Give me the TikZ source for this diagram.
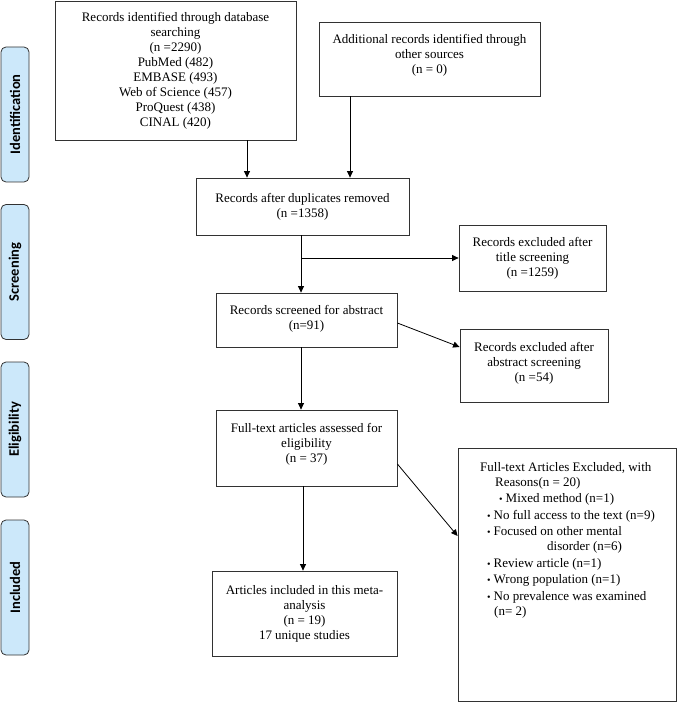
\documentclass[tikz,border=0pt]{standalone}
\usepackage{fontspec}
\setmainfont{Liberation Serif}
\newfontfamily\phasefont{Carlito}
\usetikzlibrary{arrows.meta}
\definecolor{phaseblue}{RGB}{204,232,250}
\definecolor{edgegray}{RGB}{50,50,50}
\tikzset{
  box/.style={draw=edgegray, line width=0.8pt, inner sep=0pt, align=center,
    font=\fontsize{13}{15}\selectfont},
  boxtext/.style={inner sep=0pt, align=center, font=\fontsize{13}{15}\selectfont},
  phase/.style={draw=edgegray, fill=phaseblue, rounded corners=5pt, line width=0.8pt,
    rotate=90, minimum width=135pt, minimum height=28pt, inner sep=0pt,
    font=\phasefont\bfseries\fontsize{14.5}{16}\selectfont},
  arr/.style={-{Triangle[length=6.5pt,width=6pt]}, line width=0.8pt, draw=black}
}
\newcommand{\bulletmark}{{\fontsize{10}{10}\selectfont\textbullet}\hspace{3pt}}
\begin{document}
\begin{tikzpicture}[x=1pt,y=-1pt]
\useasboundingbox (0,0) rectangle (678,703);

% phase labels
\node[phase] (pid) at (15,114.5) {Identification};
\node[phase] (psc) at (15,272) {Screening};
\node[phase] (pel) at (15,429.5) {Eligibility};
\node[phase] (pin) at (15,587.5) {Included};

% boxes
\node[box, minimum width=241pt, minimum height=139pt] (b1) at (175.5,70.5)
  {Records identified through database\\searching\\(n =2290)\\PubMed (482)\\EMBASE (493)\\Web of Science (457)\\ProQuest (438)\\CINAL (420)};
\node[box, minimum width=221pt, minimum height=74pt] (b2) at (429.5,59) {};
\node[boxtext] (b2t) at (429.5,55.5)
  {Additional records identified through\\other sources\\(n = 0)};
\node[box, minimum width=213pt, minimum height=57pt] (b3) at (302.5,206.5)
  {Records after duplicates removed\\(n =1358)};
\node[box, minimum width=147pt, minimum height=66pt] (b4) at (532.5,258)
  {Records excluded after\\title screening\\(n =1259)};
\node[box, minimum width=181pt, minimum height=54pt] (b5) at (306.5,320) {};
\node[boxtext] (b5t) at (306.5,318.5)
  {Records screened for abstract\\(n=91)};
\node[box, minimum width=148pt, minimum height=73pt] (b6) at (534,365.5) {};
\node[boxtext] (b6t) at (534,363)
  {Records excluded after\\abstract screening\\(n =54)};
\node[box, minimum width=181pt, minimum height=76pt] (b7) at (306.5,448) {};
\node[boxtext] (b7t) at (306.5,444.5)
  {Full-text articles assessed for\\eligibility\\(n = 37)};
\node[box, minimum width=185pt, minimum height=85pt] (b8) at (304.5,613.5)
  {Articles included in this meta-\\analysis\\(n = 19)\\17 unique studies};
\node[box, minimum width=218pt, minimum height=253pt] (b9) at (567,574.5) {};
\node[anchor=north west, inner sep=0pt, align=left, font=\fontsize{13}{15}\selectfont] (b9t) at (480,462)
  {Full-text Articles Excluded, with\\
   \hspace*{15pt}Reasons(n = 20)\\[1.5pt]
   \hspace*{19pt}\bulletmark Mixed method (n=1)\\[1.5pt]
   \hspace*{7pt}\bulletmark No full access to the text (n=9)\\[1.5pt]
   \hspace*{7pt}\bulletmark Focused on other mental\\
   \hspace*{67pt}disorder (n=6)\\[1.5pt]
   \hspace*{7pt}\bulletmark Review article (n=1)\\[1.5pt]
   \hspace*{7pt}\bulletmark Wrong population (n=1)\\[1.5pt]
   \hspace*{7pt}\bulletmark No prevalence was examined\\
   \hspace*{14pt}(n= 2)};

% connector guide coordinates
\coordinate (x1) at (247,0);
\coordinate (x2) at (350,0);
\coordinate (br) at (301,258);
\coordinate (x5) at (301,0);
\coordinate (x7) at (303,0);

\draw[arr] (b1.south -| x1) -- (b3.north -| x1);
\draw[arr] (b2.south -| x2) -- (b3.north -| x2);
\draw[arr] (b3.south -| br) -- (b5.north -| br);
\draw[arr] (br) -- (b4.west);
\draw[arr] (b5.south -| x5) -- (b7.north -| x5);
\draw[arr] ([yshift=-3pt]b5.east) -- ([yshift=18.5pt]b6.west);
\draw[arr] ([yshift=-16pt]b7.east) -- ([yshift=38.5pt]b9.west);
\draw[arr] (b7.south -| x7) -- (b8.north -| x7);
\end{tikzpicture}
\end{document}
